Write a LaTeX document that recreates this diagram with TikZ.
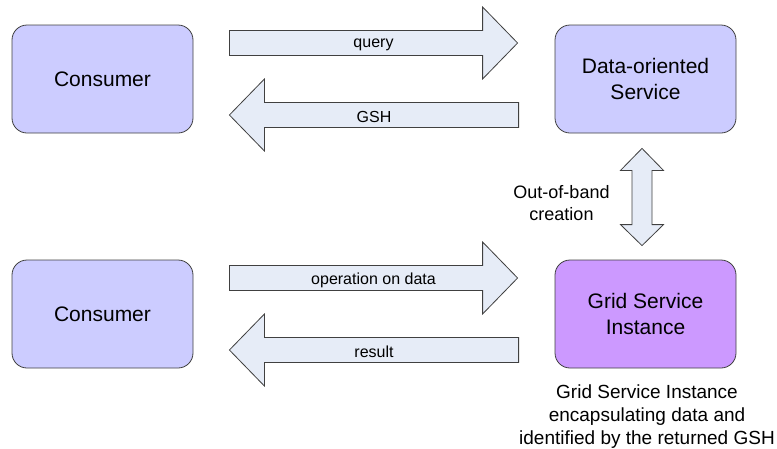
\documentclass[tikz,border=0pt]{standalone}
\usepackage{fontspec}
\setmainfont{Liberation Sans}
\usetikzlibrary{calc}
\definecolor{serviceblue}{HTML}{CCCCFF}
\definecolor{instancepurple}{HTML}{CC99FF}
\definecolor{arrowfill}{HTML}{E6ECF7}
\tikzstyle{service}=[rectangle,rounded corners=15pt,draw=black!75,line width=0.8pt,fill=serviceblue,minimum width=181pt,minimum height=108pt,align=center,font=\fontsize{21}{26}\selectfont]
\tikzstyle{instance}=[service,fill=instancepurple]
\tikzstyle{fat_arrow}=[draw=black!75,line width=0.8pt,fill=arrowfill,line join=miter]
\tikzstyle{arrow_label}=[yshift=-2pt,font=\fontsize{16}{19}\selectfont]
\tikzstyle{note}=[align=center,inner sep=0pt,font=\fontsize{19}{23}\selectfont]
% horizontal block arrow: from, to, label
\newcommand{\blockarrow}[3]{%
	\draw [style=fat_arrow] let \p1=(#1), \p2=(#2), \n1={sign(\x2-\x1)} in
		(\x1,\y1+12.5pt) -- (\x2-35pt*\n1,\y1+12.5pt) -- (\x2-35pt*\n1,\y1+36pt)
		-- (\x2,\y1) -- (\x2-35pt*\n1,\y1-36pt) -- (\x2-35pt*\n1,\y1-12.5pt)
		-- (\x1,\y1-12.5pt) -- cycle;
	\node [style=arrow_label] at ($(#1)!0.5!(#2)$) {#3};
}

\begin{document}
\begin{tikzpicture}[x=1pt,y=-1pt]
	\useasboundingbox (0,0) rectangle (777,448);
	\node [style=service] (consumer_a) at (102.5, 79) {Consumer};
	\node [style=service] (data_service) at (645.5, 79) {Data-oriented\\Service};
	\node [style=service] (consumer_b) at (102.5, 314) {Consumer};
	\node [style=instance] (grid_instance) at (645.5, 314) {Grid Service\\Instance};

	\coordinate (query_from) at ([xshift=36pt,yshift=36pt]consumer_a.east);
	\coordinate (query_to) at ([xshift=-37pt,yshift=36pt]data_service.west);
	\coordinate (gsh_from) at ([xshift=-36pt,yshift=-36pt]data_service.west);
	\coordinate (gsh_to) at ([xshift=36pt,yshift=-36pt]consumer_a.east);
	\coordinate (op_from) at ([xshift=36pt,yshift=36pt]consumer_b.east);
	\coordinate (op_to) at ([xshift=-37pt,yshift=36pt]grid_instance.west);
	\coordinate (result_from) at ([xshift=-36pt,yshift=-36pt]grid_instance.west);
	\coordinate (result_to) at ([xshift=36pt,yshift=-36pt]consumer_b.east);

	\blockarrow{query_from}{query_to}{query}
	\blockarrow{gsh_from}{gsh_to}{GSH}
	\blockarrow{op_from}{op_to}{operation on data}
	\blockarrow{result_from}{result_to}{result}

	% out-of-band creation
	\coordinate (band_top) at ([xshift=-3.5pt,yshift=-15pt]data_service.south);
	\coordinate (band_bottom) at ([xshift=-3.5pt,yshift=14pt]grid_instance.north);
	\draw [style=fat_arrow] let \p1=(band_top), \p2=(band_bottom) in
		(\x1,\y1) -- (\x1+21.5pt,\y1-22pt) -- (\x1+10pt,\y1-22pt) -- (\x1+10pt,\y2+21pt)
		-- (\x1+21.5pt,\y2+21pt) -- (\x2,\y2) -- (\x1-21.5pt,\y2+21pt) -- (\x1-10pt,\y2+21pt)
		-- (\x1-10pt,\y1-22pt) -- (\x1-21.5pt,\y1-22pt) -- cycle;
	\node [style=note, font=\fontsize{18}{22}\selectfont] (band_label) at (561.5, 203) {Out-of-band\\creation};

	\node [style=note, anchor=north] (instance_note) at (647, 385) {Grid Service Instance\\encapsulating data and\\identified by the returned GSH};
\end{tikzpicture}
\end{document}
